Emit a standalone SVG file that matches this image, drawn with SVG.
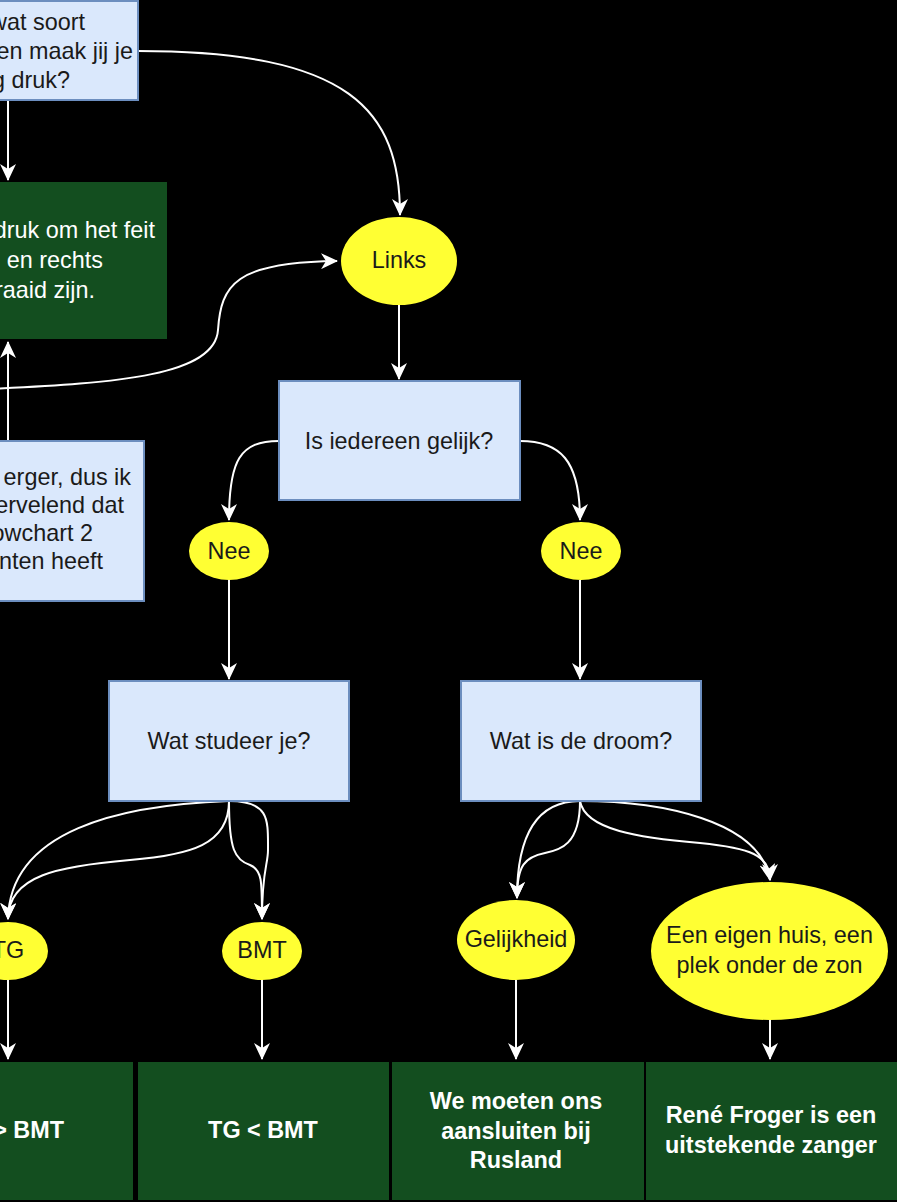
<svg xmlns="http://www.w3.org/2000/svg" width="897" height="1202" viewBox="0 0 897 1202">
<defs>
<style>
.t{font-family:"Liberation Sans",Arial,sans-serif;font-size:23.4px;fill:#1a1a1a}
.w{fill:#ffffff}
.b{font-weight:bold}
.m{text-anchor:middle}
.e{text-anchor:end}
.blue{fill:#dae8fc;stroke:#6c8ebf;stroke-width:2}
.green{fill:#134e1f}
.yel{fill:#ffff33}
.c{fill:none;stroke:#ffffff;stroke-width:2;marker-end:url(#arr)}
</style>
<marker id="arr" markerUnits="userSpaceOnUse" viewBox="0 0 17 16" markerWidth="17" markerHeight="16" refX="16" refY="8" orient="auto">
<path d="M0,0 L17,8 L0,16 L5,8 Z" fill="#ffffff"/>
</marker>
</defs>
<rect x="0" y="0" width="897" height="1202" fill="#000000"/>

<g id="connectors">
<path class="c" d="M8,101 L8,180"/>
<path class="c" d="M8,441 L8,342"/>
<path class="c" d="M-10,389 C 120,383 215,375 218,330 C 221,285 235,262 337,261"/>
<path class="c" d="M138,51 C 350,51 400,110 400,215"/>
<path class="c" d="M399,305 L399,379"/>
<path class="c" d="M279,441 C 240,441 229,460 229,520"/>
<path class="c" d="M520,441 C 560,441 580,460 580,520"/>
<path class="c" d="M229,580 L229,679"/>
<path class="c" d="M580,580 L580,679"/>
<path class="c" d="M229,801 C 120,805 10,830 8,919"/>
<path class="c" d="M229,801 C 229,845 190,855 130,860 C 60,866 8,875 8,919"/>
<path class="c" d="M229,801 C 229,850 235,860 250,865 C 262,870 262,880 262,919"/>
<path class="c" d="M229,801 C 270,801 268,820 268,850 C 268,865 262,870 262,919"/>
<path class="c" d="M580,801 C 540,801 517,830 517,898"/>
<path class="c" d="M580,801 C 580,845 560,850 545,853 C 525,857 517,865 517,898"/>
<path class="c" d="M580,801 C 585,830 640,838 700,843 C 750,848 770,855 770,880"/>
<path class="c" d="M580,801 C 660,801 760,820 770,880"/>
<path class="c" d="M8,980 L8,1059"/>
<path class="c" d="M262,980 L262,1059"/>
<path class="c" d="M516,980 L516,1059"/>
<path class="c" d="M770,1020 L770,1059"/>
</g>

<g id="q-top">
<rect class="blue" x="-120" y="1" width="258" height="99"/>
<text class="t e" x="85" y="30">wat soort</text>
<text class="t e" x="133" y="59">en maak jij je</text>
<text class="t e" x="70" y="88">g druk?</text>
</g>

<g id="answer-top">
<rect class="green" x="-120" y="182" width="287" height="157"/>
<text class="t w e" x="155" y="238">druk om het feit</text>
<text class="t w e" x="103" y="268">en rechts</text>
<text class="t w e" x="95" y="298">raaid zijn.</text>
</g>

<g id="note">
<rect class="blue" x="-120" y="441" width="264" height="160"/>
<text class="t e" x="131" y="485">erger, dus ik</text>
<text class="t e" x="124" y="513">ervelend dat</text>
<text class="t e" x="93" y="541">owchart 2</text>
<text class="t e" x="103" y="569">nten heeft</text>
</g>

<g id="links">
<ellipse class="yel" cx="399" cy="261" rx="58" ry="44"/>
<text class="t m" x="399" y="268">Links</text>
</g>

<g id="gelijk">
<rect class="blue" x="279" y="381" width="241" height="119"/>
<text class="t m" x="399" y="449">Is iedereen gelijk?</text>
</g>

<g id="nee-left">
<ellipse class="yel" cx="229" cy="551" rx="40" ry="29"/>
<text class="t m" x="229" y="559">Nee</text>
</g>

<g id="nee-right">
<ellipse class="yel" cx="581" cy="551" rx="40" ry="29"/>
<text class="t m" x="581" y="559">Nee</text>
</g>

<g id="studeer">
<rect class="blue" x="109" y="681" width="240" height="120"/>
<text class="t m" x="229" y="749">Wat studeer je?</text>
</g>

<g id="droom">
<rect class="blue" x="461" y="681" width="240" height="120"/>
<text class="t m" x="581" y="749">Wat is de droom?</text>
</g>

<g id="tg">
<ellipse class="yel" cx="8" cy="951" rx="40" ry="29"/>
<text class="t m" x="8" y="958">TG</text>
</g>

<g id="bmt">
<ellipse class="yel" cx="262" cy="951" rx="40" ry="29"/>
<text class="t m" x="262" y="958">BMT</text>
</g>

<g id="gelijkheid">
<ellipse class="yel" cx="516" cy="940" rx="59" ry="40"/>
<text class="t m" x="516" y="947">Gelijkheid</text>
</g>

<g id="huis">
<ellipse class="yel" cx="769.5" cy="951" rx="118.5" ry="69"/>
<text class="t m" x="769.5" y="943">Een eigen huis, een</text>
<text class="t m" x="769.5" y="973">plek onder de zon</text>
</g>

<g id="res1">
<rect class="green" x="-120" y="1062" width="253" height="138"/>
<text class="t w b e" x="64" y="1138">&gt; BMT</text>
</g>

<g id="res2">
<rect class="green" x="138" y="1062" width="251" height="138"/>
<text class="t w b m" x="263" y="1138">TG &lt; BMT</text>
</g>

<g id="res3">
<rect class="green" x="392" y="1062" width="252" height="138"/>
<text class="t w b m" x="516" y="1109">We moeten ons</text>
<text class="t w b m" x="516" y="1139">aansluiten bij</text>
<text class="t w b m" x="516" y="1168">Rusland</text>
</g>

<g id="res4">
<rect class="green" x="646" y="1062" width="251" height="138"/>
<text class="t w b m" x="771" y="1123">René Froger is een</text>
<text class="t w b m" x="771" y="1153">uitstekende zanger</text>
</g>
</svg>
